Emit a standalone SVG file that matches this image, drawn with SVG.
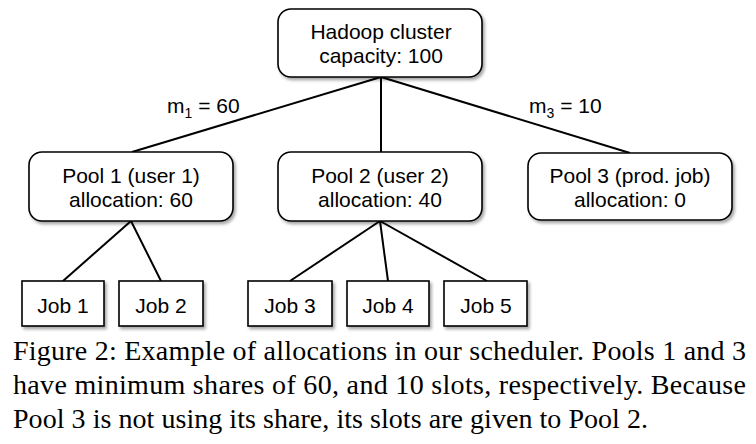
<svg xmlns="http://www.w3.org/2000/svg" width="756" height="444" viewBox="0 0 756 444">
<defs>
<filter id="sh" x="-10%" y="-10%" width="130%" height="140%">
<feDropShadow dx="2" dy="2.5" stdDeviation="1.5" flood-color="#000" flood-opacity="0.35"/>
</filter>
</defs>
<style>
.box{fill:#fff;stroke:#000;stroke-width:1.6;filter:url(#sh)}
.lbl{font-family:"Liberation Sans",Arial,sans-serif;font-size:21px;fill:#000;text-anchor:middle}
.edge{stroke:#000;stroke-width:2;fill:none}
.cap{font-family:"Liberation Serif","Times New Roman",serif;font-size:28px;fill:#000}
.sub{font-size:14px}
</style>
<rect width="756" height="444" fill="#fff"/>
<g id="connectors">
<line class="edge" x1="381" y1="77" x2="132" y2="152"/>
<line class="edge" x1="381" y1="77" x2="381" y2="152"/>
<line class="edge" x1="381" y1="77" x2="630" y2="153"/>
<line class="edge" x1="131" y1="221" x2="63" y2="281"/>
<line class="edge" x1="131" y1="221" x2="161" y2="281"/>
<line class="edge" x1="380" y1="221" x2="290" y2="281"/>
<line class="edge" x1="380" y1="221" x2="388" y2="281"/>
<line class="edge" x1="380" y1="221" x2="487" y2="281"/>
<text class="lbl" x="167" y="113" style="text-anchor:start">m<tspan class="sub" dy="5">1</tspan><tspan dy="-5"> = 60</tspan></text>
<text class="lbl" x="529" y="113" style="text-anchor:start">m<tspan class="sub" dy="5">3</tspan><tspan dy="-5"> = 10</tspan></text>
</g>
<g id="hadoop">
<rect class="box" x="278" y="9" width="204" height="68" rx="13"/>
<text class="lbl" x="381" y="39">Hadoop cluster</text>
<text class="lbl" x="381" y="63">capacity: 100</text>
</g>
<g id="pool1">
<rect class="box" x="29" y="152" width="204" height="69" rx="13"/>
<text class="lbl" x="131" y="183">Pool 1 (user 1)</text>
<text class="lbl" x="131" y="207">allocation: 60</text>
</g>
<g id="pool2">
<rect class="box" x="278" y="152" width="204" height="69" rx="13"/>
<text class="lbl" x="380" y="183">Pool 2 (user 2)</text>
<text class="lbl" x="380" y="207">allocation: 40</text>
</g>
<g id="pool3">
<rect class="box" x="528" y="153" width="204" height="67" rx="13"/>
<text class="lbl" x="630" y="183">Pool 3 (prod. job)</text>
<text class="lbl" x="630" y="207">allocation: 0</text>
</g>
<g id="job1">
<rect class="box" x="22" y="281" width="82" height="45"/>
<text class="lbl" x="63" y="313">Job 1</text>
</g>
<g id="job2">
<rect class="box" x="119" y="281" width="84" height="45"/>
<text class="lbl" x="161" y="313">Job 2</text>
</g>
<g id="job3">
<rect class="box" x="248" y="281" width="84" height="45"/>
<text class="lbl" x="290" y="313">Job 3</text>
</g>
<g id="job4">
<rect class="box" x="347" y="281" width="82" height="45"/>
<text class="lbl" x="388" y="313">Job 4</text>
</g>
<g id="job5">
<rect class="box" x="444" y="281" width="83" height="45"/>
<text class="lbl" x="486" y="313">Job 5</text>
</g>
<g id="caption">
<text class="cap" x="13" y="360" textLength="733" lengthAdjust="spacing">Figure 2: Example of allocations in our scheduler. Pools 1 and 3</text>
<text class="cap" x="13" y="394" textLength="733" lengthAdjust="spacing">have minimum shares of 60, and 10 slots, respectively. Because</text>
<text class="cap" x="13" y="428" textLength="635" lengthAdjust="spacing">Pool 3 is not using its share, its slots are given to Pool 2.</text>
</g>
</svg>
